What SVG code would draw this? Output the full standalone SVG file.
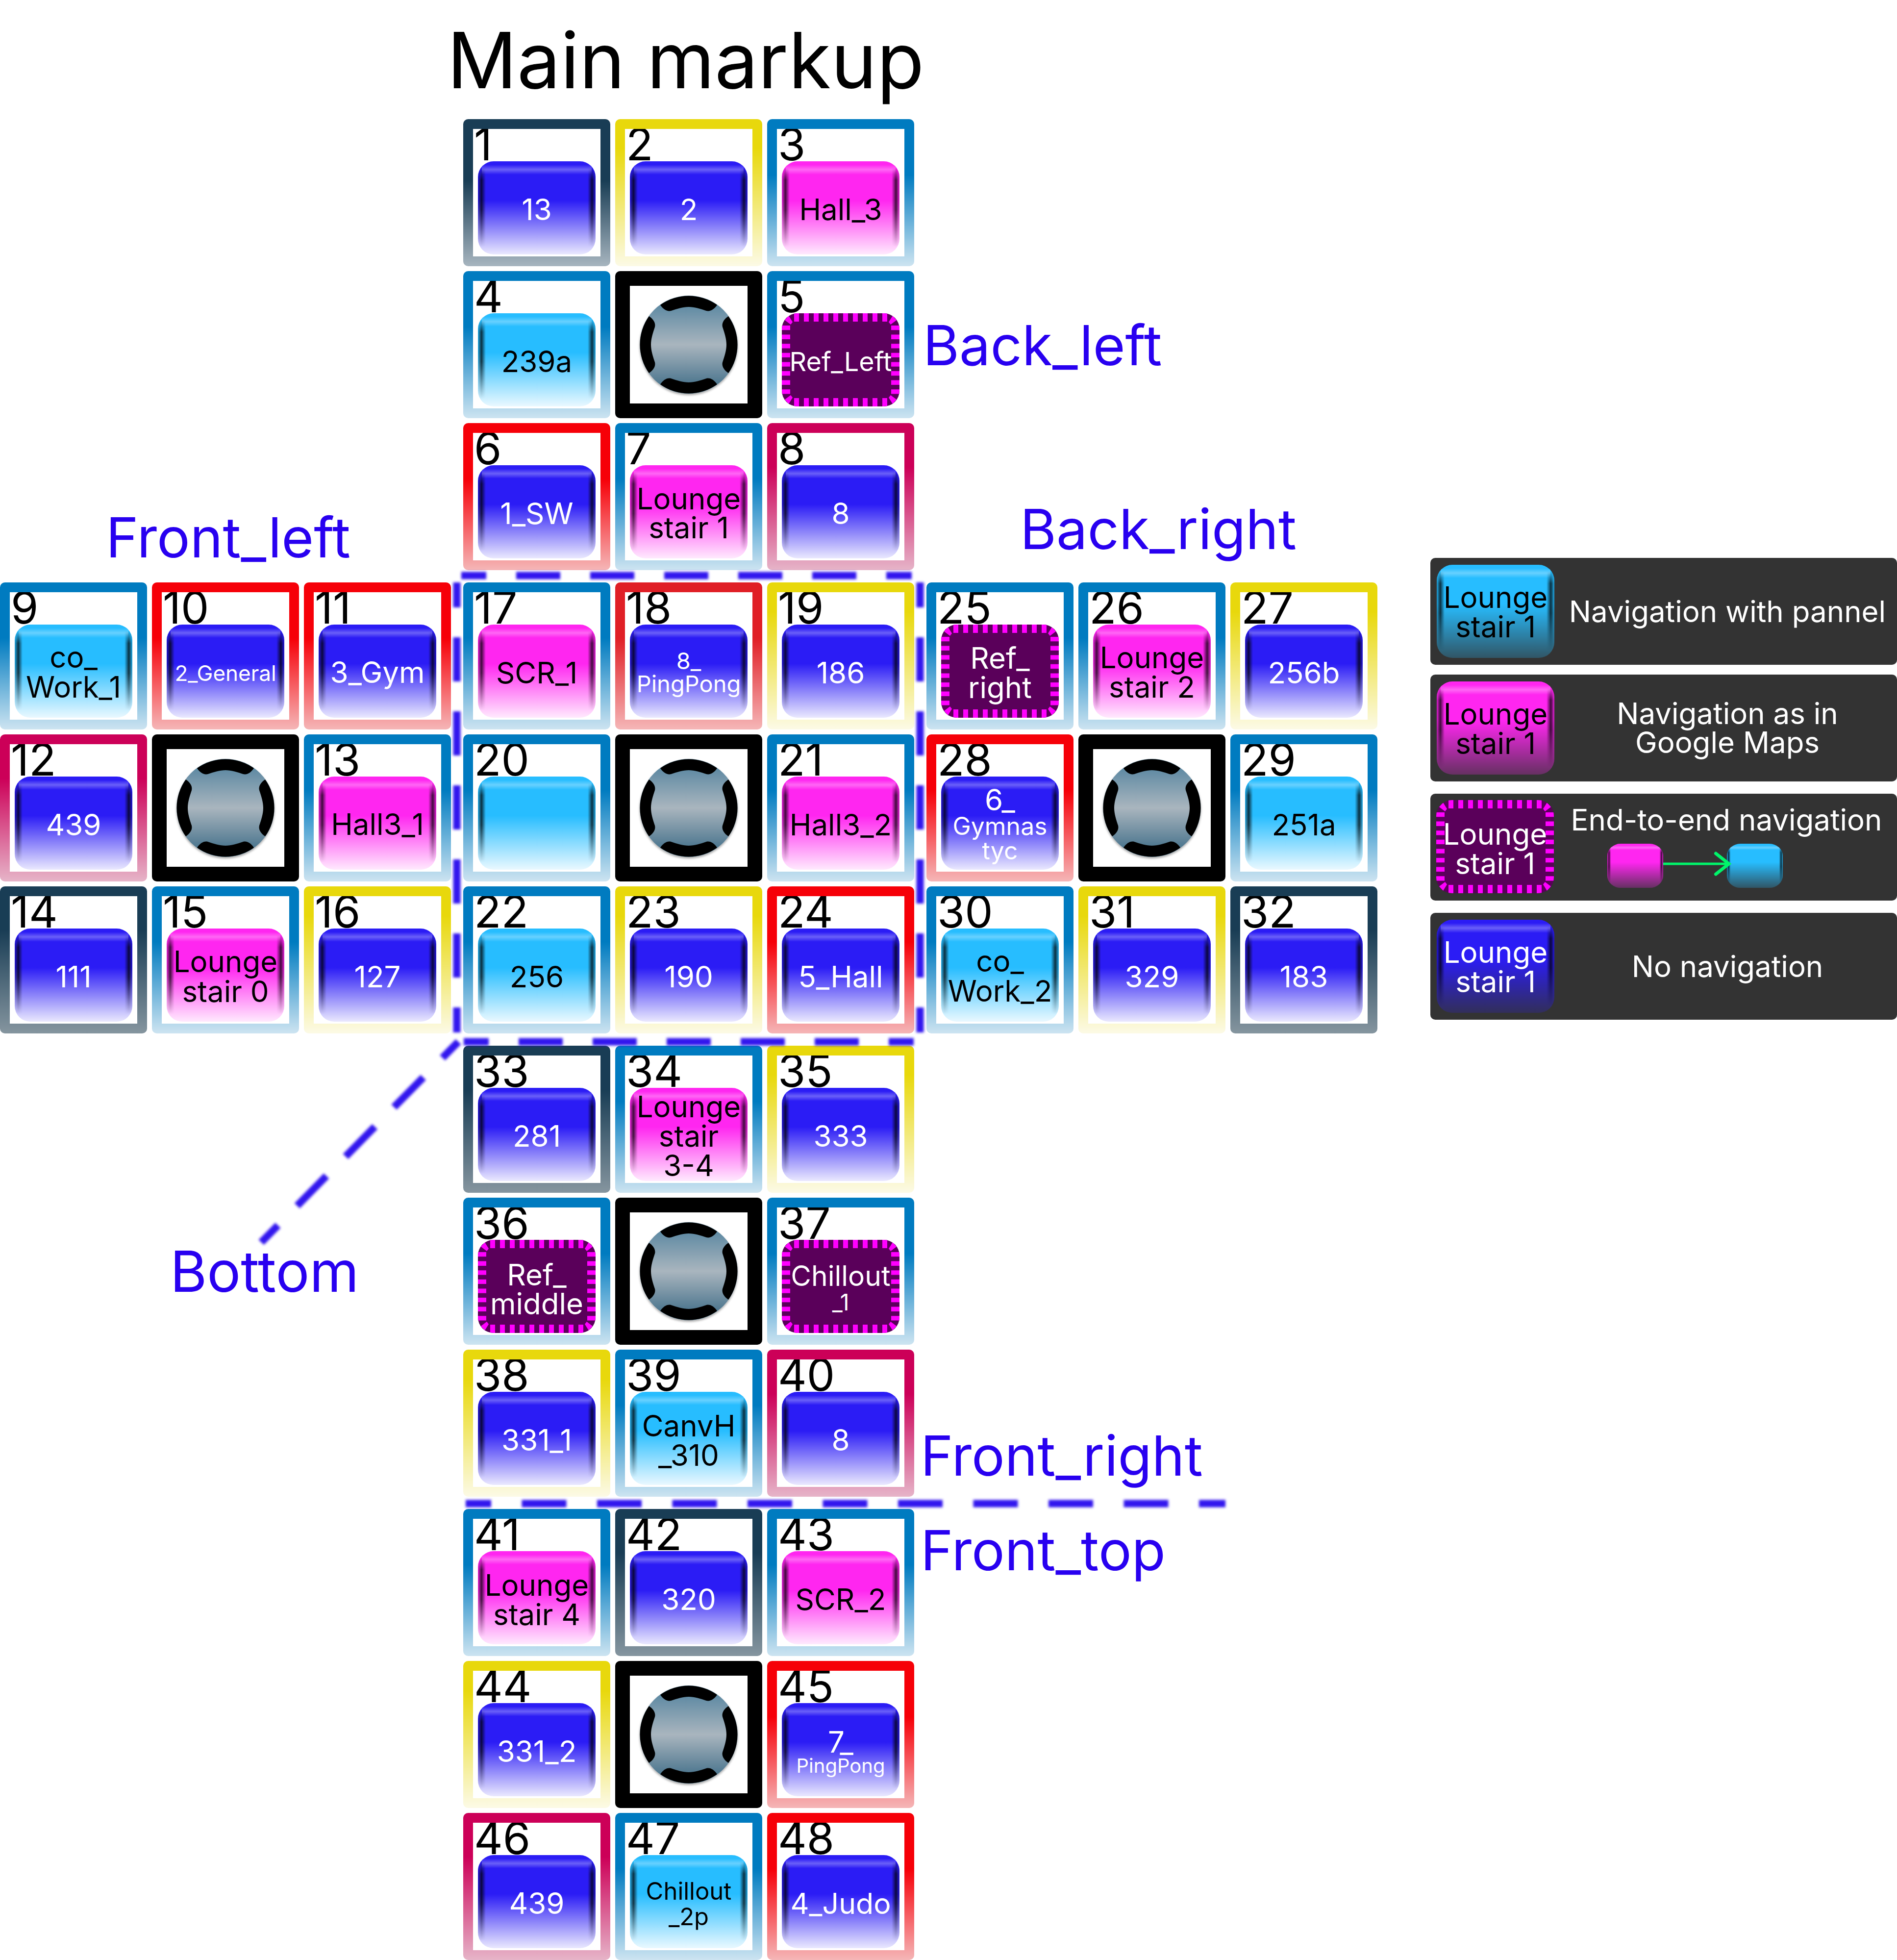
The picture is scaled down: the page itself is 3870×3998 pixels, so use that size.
<svg xmlns="http://www.w3.org/2000/svg" width="3870" height="3998" viewBox="0 0 3870 3998">
<style>
text{font-family:Inter,"Noto Sans",sans-serif}
.no{font-size:91px;fill:#000}
.t{font-size:60px;text-anchor:middle}
.k{fill:#000}.w{fill:#fff}
.h{font-size:113px;fill:#2800f0}
.l{font-size:60px;fill:#fff;text-anchor:middle}
.s47{font-size:47px}.s49{font-size:49px}.s48{font-size:48px}.s44{font-size:44px}.s40{font-size:40px}.s50{font-size:50px}.s54{font-size:54px}.s57{font-size:57px}.s46{font-size:46px}
.fBlue{fill:url(#fBlue)}.fYel{fill:url(#fYel)}.fRed{fill:url(#fRed)}.fDred{fill:url(#fDred)}.fCri{fill:url(#fCri)}.fNav{fill:url(#fNav)}.fNav2{fill:url(#fNav2)}
.dash{fill:none;stroke:#3212ee;stroke-width:15;stroke-dasharray:90 61;stroke-dashoffset:39}
</style>
<defs>
<linearGradient id="fBlue" x2="0" y2="1"><stop offset=".38" stop-color="#007bc0"/><stop offset="1" stop-color="#cde4f1"/></linearGradient>
<linearGradient id="fYel" x2="0" y2="1"><stop offset=".2" stop-color="#e8d80c"/><stop offset="1" stop-color="#fcfae6"/></linearGradient>
<linearGradient id="fRed" x2="0" y2="1"><stop offset=".38" stop-color="#f60008"/><stop offset="1" stop-color="#f5b6b7"/></linearGradient>
<linearGradient id="fDred" x2="0" y2="1"><stop offset=".38" stop-color="#e01f26"/><stop offset="1" stop-color="#f5b6b7"/></linearGradient>
<linearGradient id="fCri" x2="0" y2="1"><stop offset=".3" stop-color="#cc0058"/><stop offset="1" stop-color="#e6b4c8"/></linearGradient>
<linearGradient id="fNav" x2="0" y2="1"><stop offset=".3" stop-color="#193d55"/><stop offset="1" stop-color="#85959f"/></linearGradient>
<linearGradient id="fNav2" x2="0" y2="1"><stop offset=".42" stop-color="#193d55"/><stop offset="1" stop-color="#a7b5bf"/></linearGradient>
<linearGradient id="gB" x2="0" y2="1"><stop offset=".42" stop-color="#2b1cf5"/><stop offset="1" stop-color="#2b1cf5" stop-opacity=".1"/></linearGradient>
<linearGradient id="gM" x2="0" y2="1"><stop offset=".42" stop-color="#ff26f0"/><stop offset="1" stop-color="#ff26f0" stop-opacity=".1"/></linearGradient>
<linearGradient id="gC" x2="0" y2="1"><stop offset=".42" stop-color="#27bdff"/><stop offset="1" stop-color="#27bdff" stop-opacity=".1"/></linearGradient>
<linearGradient id="lB" x2="0" y2="1"><stop offset=".42" stop-color="#2b1cf5"/><stop offset="1" stop-color="#2b1cf5" stop-opacity=".2"/></linearGradient>
<linearGradient id="lM" x2="0" y2="1"><stop offset=".42" stop-color="#ff26f0"/><stop offset="1" stop-color="#ff26f0" stop-opacity=".25"/></linearGradient>
<linearGradient id="lC" x2="0" y2="1"><stop offset=".42" stop-color="#27bdff"/><stop offset="1" stop-color="#27bdff" stop-opacity=".25"/></linearGradient>
<linearGradient id="hi" x2="0" y2="1"><stop offset="0" stop-color="#fff" stop-opacity="0"/><stop offset=".5" stop-color="#fff" stop-opacity=".3"/><stop offset="1" stop-color="#fff" stop-opacity="0"/></linearGradient>
<linearGradient id="sL"><stop offset="0" stop-color="currentColor" stop-opacity=".1"/><stop offset=".45" stop-color="currentColor" stop-opacity=".75"/><stop offset="1" stop-color="currentColor" stop-opacity="0"/></linearGradient>
<linearGradient id="sR" x1="1" x2="0"><stop offset="0" stop-color="currentColor" stop-opacity=".1"/><stop offset=".45" stop-color="currentColor" stop-opacity=".75"/><stop offset="1" stop-color="currentColor" stop-opacity="0"/></linearGradient>
<linearGradient id="mvG" x2="0" y2="1"><stop offset=".07" stop-color="#000"/><stop offset=".2" stop-color="#fff"/><stop offset=".52" stop-color="#fff"/><stop offset=".92" stop-color="#000"/></linearGradient>
<linearGradient id="knobG" x2="0" y2="1"><stop offset=".1" stop-color="#5f8aa3"/><stop offset=".5" stop-color="#a9b5be"/><stop offset=".9" stop-color="#4e778f"/></linearGradient>
<mask id="mv" maskUnits="userSpaceOnUse" x="0" y="0" width="240" height="190"><rect width="240" height="190" fill="url(#mvG)"/></mask>
<clipPath id="cb"><rect width="240" height="190" rx="32"/></clipPath>
<clipPath id="cm"><rect width="240" height="190" rx="58" ry="52"/></clipPath>
<filter id="blur" filterUnits="userSpaceOnUse" x="0" y="0" width="3870" height="3998"><feGaussianBlur stdDeviation="2.5"/></filter>
<filter id="ks" x="-10%" y="-10%" width="120%" height="120%"><feDropShadow dx="0" dy="3" stdDeviation="2" flood-color="#000" flood-opacity=".35"/></filter>
<marker id="ah" markerUnits="userSpaceOnUse" markerWidth="40" markerHeight="60" viewBox="-30 -25 36 50" refX="0" refY="0" orient="auto"><path d="M-24-19L0 0L-24 19" fill="none" stroke="#00f56a" stroke-width="6" stroke-linecap="round"/></marker>
<path id="fr" fill-rule="evenodd" d="M10 0H290a10 10 0 0 1 10 10V290a10 10 0 0 1-10 10H10a10 10 0 0 1-10-10V10a10 10 0 0 1 10-10ZM20 20V280H280V20Z"/>
<path id="frk" fill-rule="evenodd" d="M10 0H290a10 10 0 0 1 10 10V290a10 10 0 0 1-10 10H10a10 10 0 0 1-10-10V10a10 10 0 0 1 10-10ZM30 30V270H270V30Z"/>
<g id="bevIn">
<rect x="8" y="7" width="224" height="20" fill="url(#hi)"/>
<g mask="url(#mv)"><rect width="16" height="190" fill="url(#sL)"/><rect x="224" width="16" height="190" fill="url(#sR)"/></g>
</g>
<g id="bev" clip-path="url(#cb)"><use href="#bevIn"/></g>
<g id="bB" style="color:#0a0580"><rect width="240" height="190" rx="32" fill="url(#gB)"/><use href="#bev"/></g>
<g id="bM" style="color:#a0009a"><rect width="240" height="190" rx="32" fill="url(#gM)"/><use href="#bev"/></g>
<g id="bC" style="color:#049ad8"><rect width="240" height="190" rx="32" fill="url(#gC)"/><use href="#bev"/></g>
<g id="lbB" style="color:#0a0580"><rect width="240" height="190" rx="32" fill="url(#lB)"/><use href="#bev"/></g>
<g id="lbM" style="color:#a0009a"><rect width="240" height="190" rx="32" fill="url(#lM)"/><use href="#bev"/></g>
<g id="lbC" style="color:#049ad8"><rect width="240" height="190" rx="32" fill="url(#lC)"/><use href="#bev"/></g>
<g id="miniM" style="color:#a0009a" clip-path="url(#cm)"><rect width="240" height="190" fill="url(#lM)"/><use href="#bevIn"/></g>
<g id="miniC" style="color:#049ad8" clip-path="url(#cm)"><rect width="240" height="190" fill="url(#lC)"/><use href="#bevIn"/></g>
<g id="bR"><rect width="240" height="190" rx="32" fill="#5a005a"/>
<g clip-path="url(#cb)"><g fill="none" stroke="#f0f" stroke-width="17"><path d="M25 8.5H215" stroke-dasharray="10 10"/><path d="M25 181.5H215" stroke-dasharray="10 10"/><path d="M8.5 25V165" stroke-dasharray="9.3 9.3"/><path d="M231.5 25V165" stroke-dasharray="9.3 9.3"/></g>
<path fill="#f0f" d="M14 5L22 18L18 23L6 14ZM226 5L218 18L222 23L234 14ZM14 185L22 172L18 167L6 176ZM226 185L218 172L222 167L234 176Z"/></g></g>
<g id="knob"><circle r="100" fill="url(#knobG)" filter="url(#ks)"/>
<path id="kq" d="M-58-81A100 100 0 0 1 58-81C52-72 44-67 36-69C24-73 12-77 0-77C-12-77-24-73-36-69C-44-67-52-72-58-81Z"/><use href="#kq" transform="rotate(90)"/><use href="#kq" transform="rotate(180)"/><use href="#kq" transform="rotate(270)"/></g>
</defs>
<rect width="3870" height="3998" fill="#fff"/>
<text id="title" x="912" y="180" fill="#000" style="font-size:158px">Main markup</text>
<text id="label-back-left" class="h" x="1883" y="745">Back_left</text>
<text id="label-front-left" class="h" x="216" y="1137">Front_left</text>
<text id="label-back-right" class="h" x="2081" y="1120">Back_right</text>
<text id="label-bottom" class="h" style="font-size:115px" x="347" y="2635">Bottom</text>
<text id="label-front-right" class="h" x="1878" y="3010">Front_right</text>
<text id="label-front-top" class="h" x="1878" y="3203">Front_top</text>

<g id="cell-1" transform="translate(945 243)"><text class="no" x="22" y="84">1</text><use class="fNav2" href="#fr"/><use href="#bB" x="30" y="86"/><text class="t w" x="150" y="206">13</text></g>
<g id="cell-2" transform="translate(1255 243)"><text class="no" x="22" y="84">2</text><use class="fYel" href="#fr"/><use href="#bB" x="30" y="86"/><text class="t w" x="150" y="206">2</text></g>
<g id="cell-3" transform="translate(1565 243)"><text class="no" x="22" y="84">3</text><use class="fBlue" href="#fr"/><use href="#bM" x="30" y="86"/><text class="t k" x="150" y="206">Hall_3</text></g>
<g id="cell-4" transform="translate(945 553)"><text class="no" x="22" y="84">4</text><use class="fBlue" href="#fr"/><use href="#bC" x="30" y="86"/><text class="t k" x="150" y="206">239a</text></g>
<g id="joystick-1" transform="translate(1255 553)"><use href="#frk"/><use href="#knob" x="150" y="150"/></g>
<g id="cell-5" transform="translate(1565 553)"><text class="no" x="22" y="84">5</text><use class="fBlue" href="#fr"/><use href="#bR" x="30" y="86"/><text class="t w s54" x="150" y="204">Ref_Left</text></g>
<g id="cell-6" transform="translate(945 863)"><text class="no" x="22" y="84">6</text><use class="fRed" href="#fr"/><use href="#bB" x="30" y="86"/><text class="t w" x="150" y="206">1_SW</text></g>
<g id="cell-7" transform="translate(1255 863)"><text class="no" x="22" y="84">7</text><use class="fBlue" href="#fr"/><use href="#bM" x="30" y="86"/><text class="t k" x="150" y="176">Lounge</text><text class="t k" x="150" y="235">stair 1</text></g>
<g id="cell-8" transform="translate(1565 863)"><text class="no" x="22" y="84">8</text><use class="fCri" href="#fr"/><use href="#bB" x="30" y="86"/><text class="t w" x="150" y="206">8</text></g>

<g id="cell-9" transform="translate(0 1188)"><text class="no" x="22" y="84">9</text><use class="fBlue" href="#fr"/><use href="#bC" x="30" y="86"/><text class="t k" x="150" y="174">co_</text><text class="t k" x="150" y="235">Work_1</text></g>
<g id="cell-10" transform="translate(310 1188)"><text class="no" x="22" y="84">10</text><use class="fRed" href="#fr"/><use href="#bB" x="30" y="86"/><text class="t w s44" x="150" y="201">2_General</text></g>
<g id="cell-11" transform="translate(620 1188)"><text class="no" x="22" y="84">11</text><use class="fRed" href="#fr"/><use href="#bB" x="30" y="86"/><text class="t w" x="150" y="205">3_Gym</text></g>
<g id="cell-12" transform="translate(0 1498)"><text class="no" x="22" y="84">12</text><use class="fCri" href="#fr"/><use href="#bB" x="30" y="86"/><text class="t w" x="150" y="206">439</text></g>
<g id="joystick-2" transform="translate(310 1498)"><use href="#frk"/><use href="#knob" x="150" y="150"/></g>
<g id="cell-13" transform="translate(620 1498)"><text class="no" x="22" y="84">13</text><use class="fBlue" href="#fr"/><use href="#bM" x="30" y="86"/><text class="t k" x="150" y="205">Hall3_1</text></g>
<g id="cell-14" transform="translate(0 1808)"><text class="no" x="22" y="84">14</text><use class="fNav" href="#fr"/><use href="#bB" x="30" y="86"/><text class="t w" x="150" y="206">111</text></g>
<g id="cell-15" transform="translate(310 1808)"><text class="no" x="22" y="84">15</text><use class="fBlue" href="#fr"/><use href="#bM" x="30" y="86"/><text class="t k" x="150" y="175">Lounge</text><text class="t k" x="150" y="236">stair 0</text></g>
<g id="cell-16" transform="translate(620 1808)"><text class="no" x="22" y="84">16</text><use class="fYel" href="#fr"/><use href="#bB" x="30" y="86"/><text class="t w" x="150" y="206">127</text></g>

<g id="cell-17" transform="translate(945 1188)"><text class="no" x="22" y="84">17</text><use class="fBlue" href="#fr"/><use href="#bM" x="30" y="86"/><text class="t k" x="150" y="206">SCR_1</text></g>
<g id="cell-18" transform="translate(1255 1188)"><text class="no" x="22" y="84">18</text><use class="fDred" href="#fr"/><use href="#bB" x="30" y="86"/><text class="t w s47" x="150" y="177">8_</text><text class="t w s47" x="150" y="224">PingPong</text></g>
<g id="cell-19" transform="translate(1565 1188)"><text class="no" x="22" y="84">19</text><use class="fYel" href="#fr"/><use href="#bB" x="30" y="86"/><text class="t w" x="150" y="206">186</text></g>
<g id="cell-20" transform="translate(945 1498)"><text class="no" x="22" y="84">20</text><use class="fBlue" href="#fr"/><use href="#bC" x="30" y="86"/></g>
<g id="joystick-3" transform="translate(1255 1498)"><use href="#frk"/><use href="#knob" x="150" y="150"/></g>
<g id="cell-21" transform="translate(1565 1498)"><text class="no" x="22" y="84">21</text><use class="fBlue" href="#fr"/><use href="#bM" x="30" y="86"/><text class="t k" x="150" y="206">Hall3_2</text></g>
<g id="cell-22" transform="translate(945 1808)"><text class="no" x="22" y="84">22</text><use class="fBlue" href="#fr"/><use href="#bC" x="30" y="86"/><text class="t k" x="150" y="206">256</text></g>
<g id="cell-23" transform="translate(1255 1808)"><text class="no" x="22" y="84">23</text><use class="fYel" href="#fr"/><use href="#bB" x="30" y="86"/><text class="t w" x="150" y="206">190</text></g>
<g id="cell-24" transform="translate(1565 1808)"><text class="no" x="22" y="84">24</text><use class="fRed" href="#fr"/><use href="#bB" x="30" y="86"/><text class="t w" x="150" y="206">5_Hall</text></g>

<g id="cell-25" transform="translate(1890 1188)"><text class="no" x="22" y="84">25</text><use class="fBlue" href="#fr"/><use href="#bR" x="30" y="86"/><text class="t w" x="150" y="176">Ref_</text><text class="t w" x="150" y="236">right</text></g>
<g id="cell-26" transform="translate(2200 1188)"><text class="no" x="22" y="84">26</text><use class="fBlue" href="#fr"/><use href="#bM" x="30" y="86"/><text class="t k" x="150" y="175">Lounge</text><text class="t k" x="150" y="235">stair 2</text></g>
<g id="cell-27" transform="translate(2510 1188)"><text class="no" x="22" y="84">27</text><use class="fYel" href="#fr"/><use href="#bB" x="30" y="86"/><text class="t w" x="150" y="206">256b</text></g>
<g id="cell-28" transform="translate(1890 1498)"><text class="no" x="22" y="84">28</text><use class="fRed" href="#fr"/><use href="#bB" x="30" y="86"/><text class="t w" x="150" y="155">6_</text><text class="t w s50" x="150" y="205">Gymnas</text><text class="t w s50" x="150" y="255">tyc</text></g>
<g id="joystick-4" transform="translate(2200 1498)"><use href="#frk"/><use href="#knob" x="150" y="150"/></g>
<g id="cell-29" transform="translate(2510 1498)"><text class="no" x="22" y="84">29</text><use class="fBlue" href="#fr"/><use href="#bC" x="30" y="86"/><text class="t k" x="150" y="206">251a</text></g>
<g id="cell-30" transform="translate(1890 1808)"><text class="no" x="22" y="84">30</text><use class="fBlue" href="#fr"/><use href="#bC" x="30" y="86"/><text class="t k" x="150" y="174">co_</text><text class="t k" x="150" y="235">Work_2</text></g>
<g id="cell-31" transform="translate(2200 1808)"><text class="no" x="22" y="84">31</text><use class="fYel" href="#fr"/><use href="#bB" x="30" y="86"/><text class="t w" x="150" y="206">329</text></g>
<g id="cell-32" transform="translate(2510 1808)"><text class="no" x="22" y="84">32</text><use class="fNav" href="#fr"/><use href="#bB" x="30" y="86"/><text class="t w" x="150" y="206">183</text></g>

<g id="cell-33" transform="translate(945 2133)"><text class="no" x="22" y="84">33</text><use class="fNav" href="#fr"/><use href="#bB" x="30" y="86"/><text class="t w" x="150" y="206">281</text></g>
<g id="cell-34" transform="translate(1255 2133)"><text class="no" x="22" y="84">34</text><use class="fBlue" href="#fr"/><use href="#bM" x="30" y="86"/><text class="t k" x="150" y="146">Lounge</text><text class="t k" x="150" y="206">stair</text><text class="t k" x="150" y="266">3-4</text></g>
<g id="cell-35" transform="translate(1565 2133)"><text class="no" x="22" y="84">35</text><use class="fYel" href="#fr"/><use href="#bB" x="30" y="86"/><text class="t w" x="150" y="206">333</text></g>
<g id="cell-36" transform="translate(945 2443)"><text class="no" x="22" y="84">36</text><use class="fBlue" href="#fr"/><use href="#bR" x="30" y="86"/><text class="t w" x="150" y="179">Ref_</text><text class="t w" x="150" y="238">middle</text></g>
<g id="joystick-5" transform="translate(1255 2443)"><use href="#frk"/><use href="#knob" x="150" y="150"/></g>
<g id="cell-37" transform="translate(1565 2443)"><text class="no" x="22" y="84">37</text><use class="fBlue" href="#fr"/><use href="#bR" x="30" y="86"/><text class="t w s57" x="150" y="180">Chillout</text><text class="t w s46" x="150" y="230">_1</text></g>
<g id="cell-38" transform="translate(945 2753)"><text class="no" x="22" y="84">38</text><use class="fYel" href="#fr"/><use href="#bB" x="30" y="86"/><text class="t w" x="150" y="206">331_1</text></g>
<g id="cell-39" transform="translate(1255 2753)"><text class="no" x="22" y="84">39</text><use class="fBlue" href="#fr"/><use href="#bC" x="30" y="86"/><text class="t k" x="150" y="177">CanvH</text><text class="t k" x="150" y="237">_310</text></g>
<g id="cell-40" transform="translate(1565 2753)"><text class="no" x="22" y="84">40</text><use class="fCri" href="#fr"/><use href="#bB" x="30" y="86"/><text class="t w" x="150" y="206">8</text></g>

<g id="cell-41" transform="translate(945 3078)"><text class="no" x="22" y="84">41</text><use class="fBlue" href="#fr"/><use href="#bM" x="30" y="86"/><text class="t k" x="150" y="177">Lounge</text><text class="t k" x="150" y="237">stair 4</text></g>
<g id="cell-42" transform="translate(1255 3078)"><text class="no" x="22" y="84">42</text><use class="fNav" href="#fr"/><use href="#bB" x="30" y="86"/><text class="t w" x="150" y="206">320</text></g>
<g id="cell-43" transform="translate(1565 3078)"><text class="no" x="22" y="84">43</text><use class="fBlue" href="#fr"/><use href="#bM" x="30" y="86"/><text class="t k" x="150" y="206">SCR_2</text></g>
<g id="cell-44" transform="translate(945 3388)"><text class="no" x="22" y="84">44</text><use class="fYel" href="#fr"/><use href="#bB" x="30" y="86"/><text class="t w" x="150" y="206">331_2</text></g>
<g id="joystick-6" transform="translate(1255 3388)"><use href="#frk"/><use href="#knob" x="150" y="150"/></g>
<g id="cell-45" transform="translate(1565 3388)"><text class="no" x="22" y="84">45</text><use class="fRed" href="#fr"/><use href="#bB" x="30" y="86"/><text class="t w" x="150" y="187">7_</text><text class="t w s40" x="150" y="228">PingPong</text></g>
<g id="cell-46" transform="translate(945 3698)"><text class="no" x="22" y="84">46</text><use class="fCri" href="#fr"/><use href="#bB" x="30" y="86"/><text class="t w" x="150" y="206">439</text></g>
<g id="cell-47" transform="translate(1255 3698)"><text class="no" x="22" y="84">47</text><use class="fBlue" href="#fr"/><use href="#bC" x="30" y="86"/><text class="t k s49" x="150" y="177">Chillout</text><text class="t k s49" x="150" y="229">_2p</text></g>
<g id="cell-48" transform="translate(1565 3698)"><text class="no" x="22" y="84">48</text><use class="fRed" href="#fr"/><use href="#bB" x="30" y="86"/><text class="t w" style="font-size:59px" x="150" y="206">4_Judo</text></g>

<g id="legend-panel">
<g id="legend-1"><rect x="2918" y="1138" width="952" height="218" rx="10" fill="#333"/><use href="#lbC" x="2931" y="1152"/><text class="t k" x="3051" y="1240">Lounge</text><text class="t k" x="3051" y="1300">stair 1</text><text class="l" x="3524" y="1269">Navigation with pannel</text></g>
<g id="legend-2"><rect x="2918" y="1376" width="952" height="218" rx="10" fill="#333"/><use href="#lbM" x="2931" y="1390"/><text class="t k" x="3051" y="1478">Lounge</text><text class="t k" x="3051" y="1538">stair 1</text><text class="l" x="3524" y="1477">Navigation as in</text><text class="l" x="3524" y="1536">Google Maps</text></g>
<g id="legend-3"><rect x="2918" y="1619" width="952" height="218" rx="10" fill="#333"/><use href="#bR" x="2930" y="1632"/><text class="t w" x="3050" y="1723">Lounge</text><text class="t w" x="3050" y="1783">stair 1</text><text class="l" x="3522" y="1694">End-to-end navigation</text>
<use href="#miniM" transform="translate(3279 1721) scale(.475 .474)"/><use href="#miniC" transform="translate(3523 1721) scale(.475 .474)"/></g>
<g id="legend-4"><rect x="2918" y="1862" width="952" height="218" rx="10" fill="#333"/><use href="#lbB" x="2931" y="1876"/><text class="t w" x="3051" y="1964">Lounge</text><text class="t w" x="3051" y="2024">stair 1</text><text class="l" x="3524" y="1993">No navigation</text></g>
</g>

<g id="connectors">
<path d="M3393 1762H3527" fill="none" stroke="#00f56a" stroke-width="5" marker-end="url(#ah)"/>
<g filter="url(#blur)">
<path class="dash" d="M941 1174H1860"/>
<path class="dash" d="M946 2125H1864"/>
<path class="dash" d="M932 1188V2106"/>
<path class="dash" d="M1877 1188V2106"/>
<path class="dash" style="stroke-dasharray:85 56" d="M935 2125L533 2534"/>
<path class="dash" style="stroke-dasharray:91 62.5" d="M950 3067H2500"/>
</g>
</g>
</svg>
